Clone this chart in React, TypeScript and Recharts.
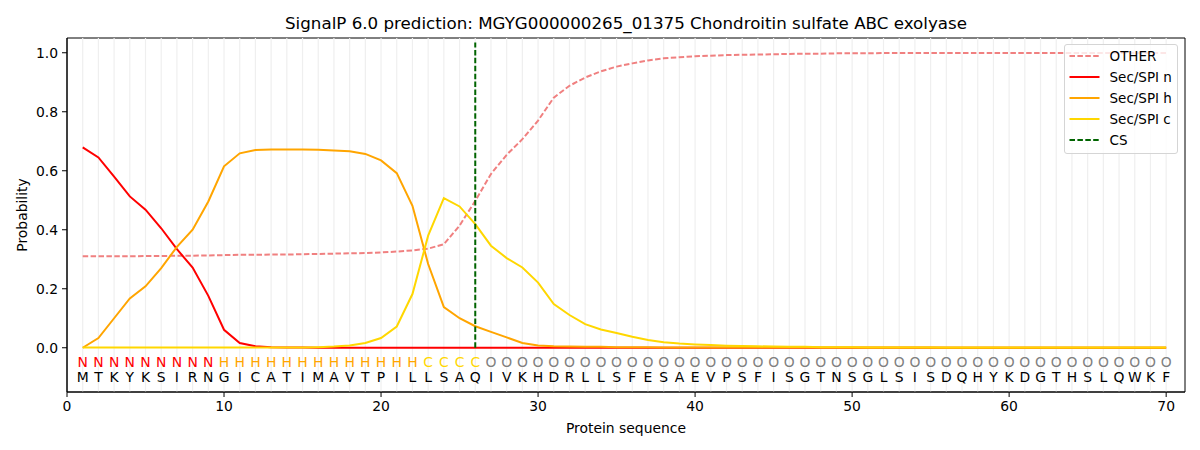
import { LineChart, Line, XAxis, YAxis, ReferenceLine, ReferenceDot, ReferenceArea, Legend, Label } from 'recharts';

const FONT = 'DejaVu Sans, sans-serif';

const sequence = 'MTKYKSIRNGICATIMAVTPILLSAQIVKHDRLLSFESAEVPSFISGTNSGLSISDQHYKDGTHSLQWKF';
const regions =
  'NNNNNNNNN' + 'HHHHHHHHHHHHH' + 'CCCC' +
  'OOOOOOOOOO' + 'OOOOOOOOOO' + 'OOOOOOOOOO' + 'OOOOOOOOOO' + 'OOOO';

const other = [
  0.310, 0.310, 0.310, 0.310, 0.311, 0.311, 0.312, 0.312, 0.313, 0.314,
  0.315, 0.315, 0.316, 0.316, 0.317, 0.318, 0.319, 0.320, 0.321, 0.323,
  0.326, 0.330, 0.336, 0.351, 0.414, 0.498, 0.589, 0.654, 0.707, 0.770,
  0.848, 0.888, 0.916, 0.937, 0.953, 0.964, 0.974, 0.981, 0.985, 0.988,
  0.990, 0.992, 0.993, 0.994, 0.995, 0.996, 0.997, 0.997, 0.998, 0.998,
  0.998, 0.999, 0.999, 0.999, 0.999, 0.999, 0.999, 0.999, 0.999, 0.999,
  0.999, 0.999, 0.999, 0.999, 0.999, 0.999, 0.999, 0.999, 0.999, 0.999,
];
const secN = [
  0.679, 0.645, 0.580, 0.513, 0.468, 0.405, 0.334, 0.272, 0.176, 0.061,
  0.016, 0.005, 0.002, 0.001, 0.001, 0.000, 0.000, 0.000, 0.000, 0.000,
  0.000, 0.000, 0.000, 0.000, 0.000, 0.000, 0.000, 0.000, 0.000, 0.000,
  0.000, 0.000, 0.000, 0.000, 0.000, 0.000, 0.000, 0.000, 0.000, 0.000,
  0.000, 0.000, 0.000, 0.000, 0.000, 0.000, 0.000, 0.000, 0.000, 0.000,
  0.000, 0.000, 0.000, 0.000, 0.000, 0.000, 0.000, 0.000, 0.000, 0.000,
  0.000, 0.000, 0.000, 0.000, 0.000, 0.000, 0.000, 0.000, 0.000, 0.000,
];
const secH = [
  0.000, 0.033, 0.100, 0.167, 0.208, 0.270, 0.342, 0.400, 0.496, 0.615,
  0.659, 0.670, 0.672, 0.672, 0.672, 0.671, 0.669, 0.666, 0.657, 0.635,
  0.592, 0.481, 0.284, 0.138, 0.100, 0.073, 0.054, 0.035, 0.016, 0.008,
  0.005, 0.004, 0.003, 0.003, 0.002, 0.002, 0.002, 0.001, 0.001, 0.001,
  0.001, 0.001, 0.001, 0.001, 0.001, 0.001, 0.001, 0.001, 0.001, 0.001,
  0.001, 0.001, 0.001, 0.001, 0.001, 0.000, 0.000, 0.000, 0.000, 0.000,
  0.000, 0.000, 0.000, 0.000, 0.000, 0.000, 0.000, 0.000, 0.000, 0.000,
];
const secC = [
  0.001, 0.001, 0.001, 0.001, 0.001, 0.001, 0.001, 0.001, 0.001, 0.001,
  0.001, 0.001, 0.001, 0.001, 0.001, 0.002, 0.004, 0.008, 0.016, 0.033,
  0.072, 0.182, 0.380, 0.507, 0.479, 0.419, 0.346, 0.304, 0.272, 0.221,
  0.148, 0.111, 0.080, 0.062, 0.050, 0.037, 0.026, 0.019, 0.014, 0.011,
  0.009, 0.007, 0.006, 0.005, 0.004, 0.003, 0.003, 0.002, 0.002, 0.002,
  0.001, 0.001, 0.001, 0.001, 0.001, 0.001, 0.001, 0.001, 0.001, 0.001,
  0.001, 0.001, 0.001, 0.001, 0.001, 0.001, 0.001, 0.001, 0.001, 0.001,
];

const cleavageSite = 26;
const xTicks = [0, 10, 20, 30, 40, 50, 60, 70];
const yTicks = [0, 0.2, 0.4, 0.6, 0.8, 1.0];

const series = [
  { key: 'other', name: 'OTHER', color: '#f08080', dashed: true },
  { key: 'n', name: 'Sec/SPI n', color: '#ff0000', dashed: false },
  { key: 'h', name: 'Sec/SPI h', color: '#ffa500', dashed: false },
  { key: 'c', name: 'Sec/SPI c', color: '#ffd700', dashed: false },
];

const regionColors: Record<string, string> = {
  N: '#ff0000',
  H: '#ffa500',
  C: '#ffd700',
  O: '#808080',
};

const rows = sequence.split('').map((aa, i) => ({
  pos: i + 1,
  aa,
  region: regions[i],
  other: other[i],
  n: secN[i],
  h: secH[i],
  c: secC[i],
}));

const REGION_Y = -0.047;
const SEQ_Y = -0.098;
const DASH = '5.5 2.4';

function LegendBox() {
  const items = [...series, { key: 'cs', name: 'CS', color: '#006400', dashed: true }];
  return (
    <div
      style={{
        width: 114,
        height: 110,
        border: '1px solid #d5d5d5',
        borderRadius: 3,
        background: 'rgba(255,255,255,0.8)',
        paddingTop: 0.5,
        boxSizing: 'border-box',
        fontFamily: FONT,
        fontSize: 13.5,
        color: '#000',
      }}
    >
      {items.map((it) => (
        <div key={it.key} style={{ display: 'flex', alignItems: 'center', height: 20.9 }}>
          <svg width={44.5} height={12} style={{ flex: 'none' }}>
            <line
              x1={4.5}
              x2={34.5}
              y1={6}
              y2={6}
              stroke={it.color}
              strokeWidth={2}
              strokeDasharray={it.dashed ? DASH : undefined}
            />
          </svg>
          <span style={{ whiteSpace: 'nowrap' }}>{it.name}</span>
        </div>
      ))}
    </div>
  );
}

export default function App() {
  return (
    <div style={{ position: 'absolute', left: 0, top: 0, width: 1200, height: 450, background: '#fff', fontFamily: FONT }}>
      <div
        style={{
          position: 'absolute',
          top: 13,
          left: 67,
          width: 1118,
          textAlign: 'center',
          fontSize: 16.7,
          lineHeight: '20px',
          color: '#000',
        }}
      >
        SignalP 6.0 prediction: MGYG000000265_01375 Chondroitin sulfate ABC exolyase
      </div>
      <LineChart width={1200} height={450} data={rows} margin={{ top: 38, right: 15, left: 17, bottom: 0 }}>
        <XAxis
          dataKey='pos'
          type='number'
          domain={[0, 71.2]}
          ticks={xTicks}
          allowDataOverflow
          height={58}
          tickSize={5}
          tickMargin={4}
          tick={{ fontSize: 13.9, fill: '#000', fontFamily: FONT }}
          tickLine={{ stroke: '#000' }}
          axisLine={{ stroke: '#000' }}
        >
          <Label value='Protein sequence' position='insideBottom' offset={17} style={{ fontSize: 13.9, fill: '#000', fontFamily: FONT }} />
        </XAxis>
        <YAxis
          type='number'
          domain={[-0.15, 1.05]}
          ticks={yTicks}
          allowDataOverflow
          width={50}
          tickSize={5}
          tickMargin={4}
          tickFormatter={(v: number) => v.toFixed(1)}
          tick={{ fontSize: 13.9, fill: '#000', fontFamily: FONT }}
          tickLine={{ stroke: '#000' }}
          axisLine={{ stroke: '#000' }}
        >
          <Label
            content={(props: any) => {
              const vb = props.viewBox || { x: 17, y: 38, width: 50, height: 354 };
              const x = vb.x + 5;
              const y = vb.y + vb.height / 2;
              return (
                <text
                  x={x}
                  y={y}
                  transform={`rotate(-90, ${x}, ${y})`}
                  textAnchor='middle'
                  dominantBaseline='central'
                  fontSize={13.9}
                  fontFamily={FONT}
                  fill='#000'
                >
                  Probability
                </text>
              );
            }}
          />
        </YAxis>

        {rows.map((r) => (
          <ReferenceLine key={'g' + r.pos} x={r.pos} stroke='#efefef' strokeWidth={1.2} />
        ))}

        {series.map((s) => (
          <Line
            key={s.key}
            dataKey={s.key}
            name={s.name}
            stroke={s.color}
            strokeWidth={2}
            strokeDasharray={s.dashed ? DASH : undefined}
            dot={false}
            activeDot={false}
            isAnimationActive={false}
          />
        ))}

        <ReferenceLine
          segment={[{ x: cleavageSite, y: 0 }, { x: cleavageSite, y: 1.035 }]}
          stroke='#006400'
          strokeWidth={2}
          strokeDasharray={DASH}
        />

        {rows.map((r) => (
          <ReferenceDot
            key={'r' + r.pos}
            x={r.pos}
            y={REGION_Y}
            r={1}
            ifOverflow='visible'
            shape={(p: any) => (
              <text x={p.cx} y={p.cy} textAnchor='middle' dominantBaseline='central' fontSize={13.9} fontFamily={FONT} fill={regionColors[r.region]}>
                {r.region}
              </text>
            )}
          />
        ))}
        {rows.map((r) => (
          <ReferenceDot
            key={'s' + r.pos}
            x={r.pos}
            y={SEQ_Y}
            r={1}
            ifOverflow='visible'
            shape={(p: any) => (
              <text x={p.cx} y={p.cy} textAnchor='middle' dominantBaseline='central' fontSize={13.9} fontFamily={FONT} fill='#000'>
                {r.aa}
              </text>
            )}
          />
        ))}

        <ReferenceArea x1={0} x2={71.2} y1={-0.15} y2={1.05} fill='none' stroke='#000' strokeWidth={1} ifOverflow='visible' />

        <Legend
          layout='vertical'
          align='center'
          verticalAlign='middle'
          wrapperStyle={{ left: 1064, top: 44, width: 114 }}
          content={() => <LegendBox />}
        />
      </LineChart>
    </div>
  );
}
